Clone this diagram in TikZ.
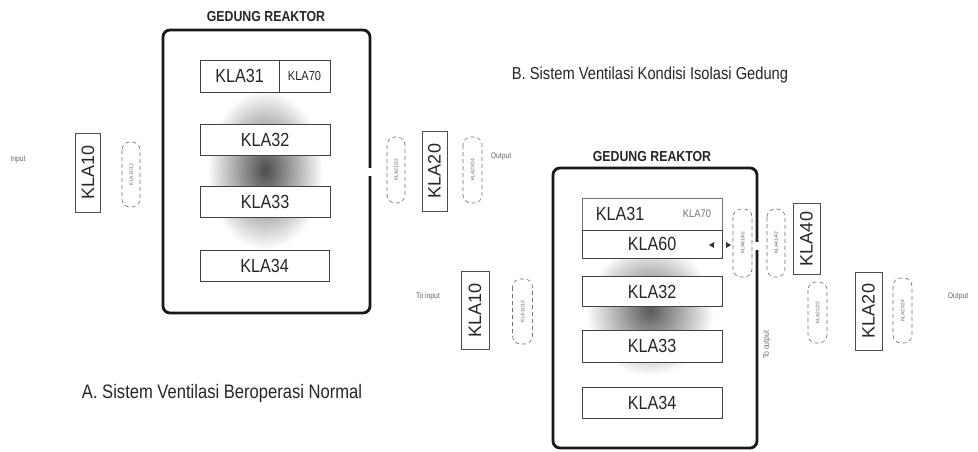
\documentclass[tikz,border=0pt]{standalone}
\usepackage{fontspec}
\setmainfont{Liberation Sans}
\newfontfamily\cnd[FakeStretch=0.85]{Liberation Sans}
\begin{document}
\begin{tikzpicture}[x=1pt,y=-1pt,
 every node/.style={inner sep=0pt, outer sep=0pt, text=black!85},
 outerbox/.style={draw=black!90, line width=2.8pt, rounded corners=7pt},
 unitbox/.style={draw=black!75, line width=0.6pt, fill=white, font=\cnd\fontsize{19}{19}\selectfont},
 smallunit/.style={draw=black!75, line width=0.6pt, fill=white, font=\cnd\fontsize{13}{13}\selectfont},
 vbox/.style={draw=black!70, line width=0.6pt, rotate=90, font=\fontsize{18}{18}\selectfont},
 filt/.style={draw=black!55, dash pattern=on 4pt off 3pt, line width=0.6pt, rounded corners=8pt, rotate=90, font=\fontsize{5}{5}\selectfont, text=black!60},
 faint/.style={font=\cnd\fontsize{8}{8}\selectfont, text=black!60},
 titletext/.style={font=\cnd\bfseries\fontsize{14.5}{14.5}\selectfont},
 captext/.style={font=\cnd\fontsize{17.3}{17.3}\selectfont}]
\useasboundingbox[fill=white] (0,0) rectangle (978,452);

% ---------- A ----------
\shade[inner color=black!70, outer color=white] (265,170) ellipse [x radius=58pt, y radius=80pt];
\node[titletext] (titleA) at (266,17) {GEDUNG REAKTOR};
\node[outerbox, minimum width=207pt, minimum height=283pt] (gedA) at (266.5,171.5) {};
\fill[white] (367,168) rectangle (373,176);
\node[unitbox, minimum width=79pt, minimum height=32pt] (kla31a) at (239.5,76) {KLA31};
\node[smallunit, minimum width=51pt, minimum height=32pt] (kla70a) at (304.5,76) {KLA70};
\node[unitbox, minimum width=130pt, minimum height=31pt] (kla32a) at (265,139.5) {KLA32};
\node[unitbox, minimum width=130pt, minimum height=31pt] (kla33a) at (265,201.5) {KLA33};
\node[unitbox, minimum width=129pt, minimum height=31pt] (kla34a) at (264.5,265.5) {KLA34};

\node[faint] (inA) at (18,160) {Input};
\node[vbox, minimum width=79pt, minimum height=25pt] (kla10a) at (88,172.5) {KLA10};
\node[filt, minimum width=65pt, minimum height=18pt] (fa1) at (131,174.5) {KLA11/12};
\node[filt, minimum width=66pt, minimum height=18pt] (fa2) at (396,170) {KLA21/22};
\node[vbox, minimum width=80pt, minimum height=25pt] (kla20a) at (434.5,171) {KLA20};
\node[filt, minimum width=66pt, minimum height=19pt] (fa3) at (472.5,170) {KLA23/24};
\node[faint] (outA) at (501,157) {Output};

\node[captext, font=\cnd\fontsize{19.5}{19.5}\selectfont] (capA) at (222,393) {A. Sistem Ventilasi Beroperasi Normal};
\node[captext] (capB) at (650,75) {B. Sistem Ventilasi Kondisi Isolasi Gedung};

% ---------- B ----------
\shade[inner color=black!65, outer color=white] (650,310) ellipse [x radius=64pt, y radius=66pt];
\node[titletext] (titleB) at (652,157) {GEDUNG REAKTOR};
\node[outerbox, minimum width=204pt, minimum height=280pt] (gedB) at (655,308) {};
\fill[white] (754,242) rectangle (760,250);
\node[unitbox, minimum width=140pt, minimum height=32pt, draw=black!55] (rowB) at (652,214) {};
\node[font=\cnd\fontsize{19}{19}\selectfont] (kla31b) at (620,214) {KLA31};
\node[font=\cnd\fontsize{11}{11}\selectfont, text=black!55] (kla70b) at (697,214) {KLA70};
\node[unitbox, minimum width=140pt, minimum height=28pt] (kla60b) at (652,244) {KLA60};
\fill[black!80] (709,245) -- (714,242) -- (714,248) -- cycle;
\fill[black!80] (731,245) -- (726,242) -- (726,248) -- cycle;
\node[unitbox, minimum width=140pt, minimum height=30pt] (kla32b) at (652,291.5) {KLA32};
\node[unitbox, minimum width=140pt, minimum height=32pt] (kla33b) at (652,346) {KLA33};
\node[unitbox, minimum width=140pt, minimum height=31pt] (kla34b) at (652,402.5) {KLA34};

\node[filt, minimum width=68pt, minimum height=19pt] (fb1) at (742.5,243) {KLA61/62};
\node[filt, minimum width=68pt, minimum height=18pt] (fb2) at (776,243) {KLA41/42};
\node[vbox, minimum width=71pt, minimum height=27pt] (kla40b) at (806.5,239) {KLA40};
\node[filt, minimum width=61pt, minimum height=19pt] (fb3) at (817.5,312.5) {KLA21/22};
\node[vbox, minimum width=78pt, minimum height=27pt] (kla20b) at (868.5,311) {KLA20};
\node[filt, minimum width=65pt, minimum height=19pt] (fb4) at (902.5,310.5) {KLA23/24};
\node[faint] (outB) at (958,297) {Output};
\node[faint, rotate=90] (tooutB) at (767,345) {To output};

\node[faint] (toinB) at (428,296) {To input};
\node[vbox, minimum width=78pt, minimum height=28pt] (kla10b) at (475,310.5) {KLA10};
\node[filt, minimum width=65pt, minimum height=20pt] (fb5) at (522.5,311.5) {KLA11/12};
\end{tikzpicture}
\end{document}
